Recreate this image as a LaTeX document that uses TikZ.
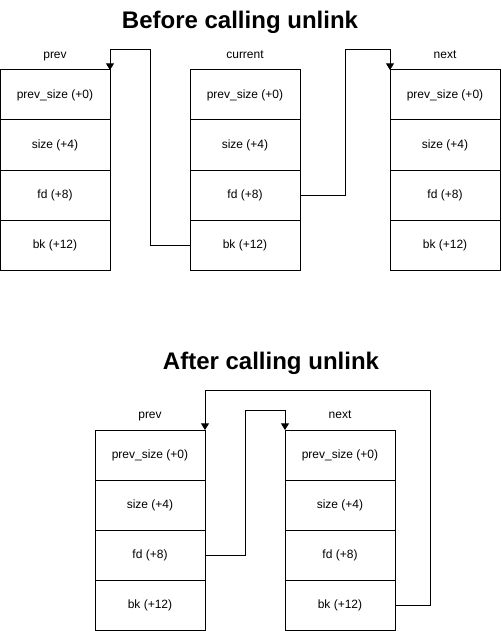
\documentclass[tikz,border=0pt]{standalone}
\usepackage{fontspec}
\setmainfont{Liberation Sans}
\usepackage{tikz}
\usetikzlibrary{arrows.meta,positioning}

\begin{document}
\begin{tikzpicture}[
  x=0.75pt, y=-0.75pt,
  every node/.style={font=\fontsize{9}{11}\selectfont},
  cell/.style={
    draw, line width=0.75pt,
    minimum width=82.5pt, minimum height=37.5pt,
    inner sep=0pt, outer sep=0pt,
  },
  tag/.style={inner sep=0pt, text height=7pt, text depth=2pt},
  heading/.style={font=\fontsize{18}{22}\selectfont\bfseries, inner sep=0pt, anchor=base},
  link/.style={-{Triangle[length=5pt,width=6pt]}, line width=0.75pt},
]
\useasboundingbox (0,0) rectangle (502,631);

% Before calling unlink
\node[heading] (title-before) at (240,29) {Before calling unlink};

\node[cell] (prev-ps) at (55,95) {prev\_size (+0)};
\node[cell, below=0pt of prev-ps] (prev-sz) {size (+4)};
\node[cell, below=0pt of prev-sz] (prev-fd) {fd (+8)};
\node[cell, below=0pt of prev-fd] (prev-bk) {bk (+12)};

\node[cell] (cur-ps) at (245,95) {prev\_size (+0)};
\node[cell, below=0pt of cur-ps] (cur-sz) {size (+4)};
\node[cell, below=0pt of cur-sz] (cur-fd) {fd (+8)};
\node[cell, below=0pt of cur-fd] (cur-bk) {bk (+12)};

\node[cell] (nxt-ps) at (445,95) {prev\_size (+0)};
\node[cell, below=0pt of nxt-ps] (nxt-sz) {size (+4)};
\node[cell, below=0pt of nxt-sz] (nxt-fd) {fd (+8)};
\node[cell, below=0pt of nxt-fd] (nxt-bk) {bk (+12)};

\node[tag, above=6.75pt of prev-ps] (lbl-prev) {prev};
\node[tag, above=6.75pt of cur-ps] (lbl-cur) {current};
\node[tag, above=6.75pt of nxt-ps] (lbl-nxt) {next};

\draw[link] (cur-bk.west) -- ++(-40,0) -- ++(0,-195) -| (prev-ps.north east);
\draw[link] (cur-fd.east) -- ++(45,0) -- ++(0,-145) -| (nxt-ps.north west);

% After calling unlink
\node[heading] (title-after) at (271,369) {After calling unlink};

\node[cell] (prev2-ps) at (150,455) {prev\_size (+0)};
\node[cell, below=0pt of prev2-ps] (prev2-sz) {size (+4)};
\node[cell, below=0pt of prev2-sz] (prev2-fd) {fd (+8)};
\node[cell, below=0pt of prev2-fd] (prev2-bk) {bk (+12)};

\node[cell] (nxt2-ps) at (340,455) {prev\_size (+0)};
\node[cell, below=0pt of nxt2-ps] (nxt2-sz) {size (+4)};
\node[cell, below=0pt of nxt2-sz] (nxt2-fd) {fd (+8)};
\node[cell, below=0pt of nxt2-fd] (nxt2-bk) {bk (+12)};

\node[tag, above=6.75pt of prev2-ps] (lbl-prev2) {prev};
\node[tag, above=6.75pt of nxt2-ps] (lbl-nxt2) {next};

\draw[link] (prev2-fd.east) -- ++(40,0) -- ++(0,-145) -| (nxt2-ps.north west);
\draw[link] (nxt2-bk.east) -- ++(35,0) -- ++(0,-215) -| (prev2-ps.north east);

\end{tikzpicture}
\end{document}
